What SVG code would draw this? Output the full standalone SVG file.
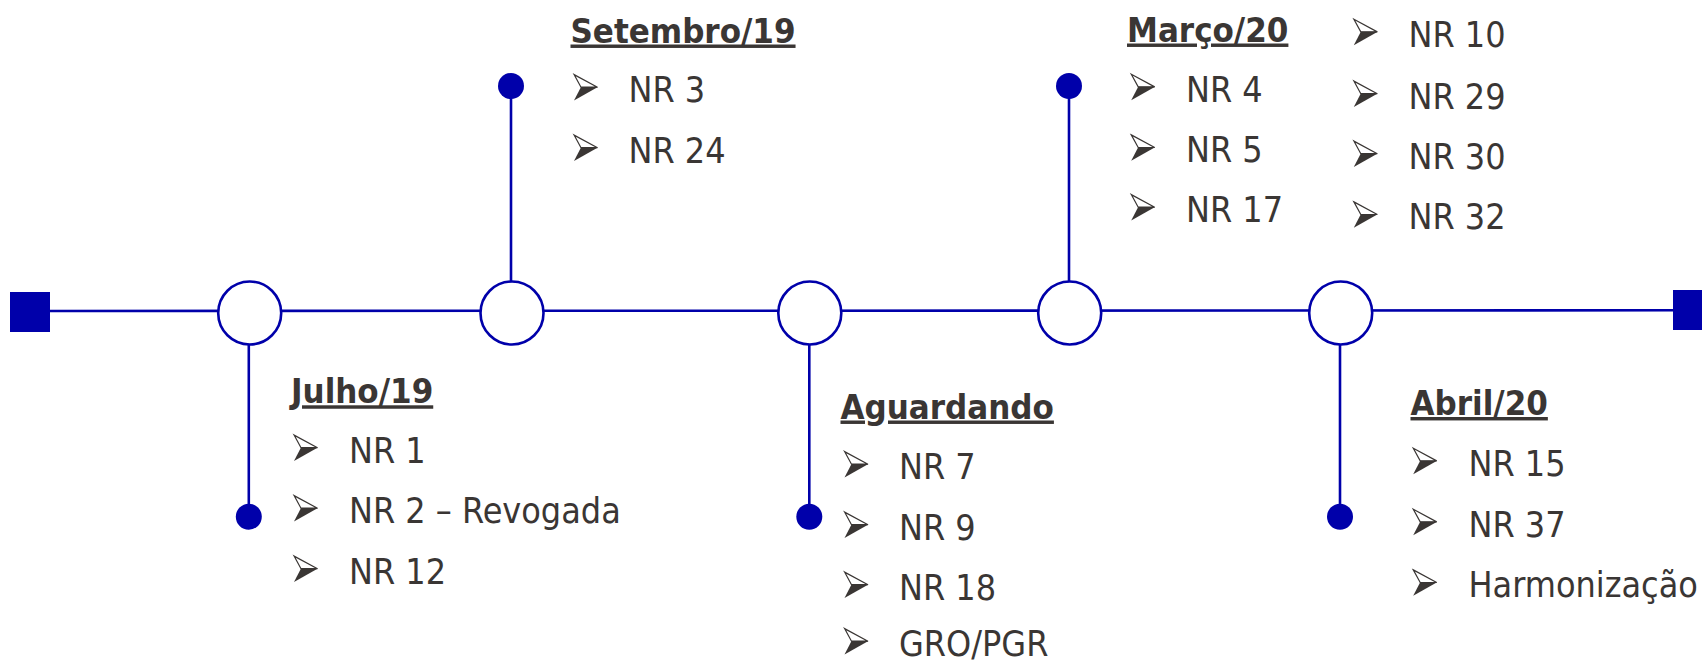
<svg xmlns="http://www.w3.org/2000/svg" xmlns:xlink="http://www.w3.org/1999/xlink" width="1702" height="662" viewBox="0 0 1702 662">
<style>
  .ln { stroke:#0000AA; stroke-width:2.6; fill:none; }
  .ms { fill:#ffffff; stroke:#0000AA; stroke-width:2.6; }
  .dot { fill:#0000AA; }
  .end { fill:#0000AA; }
  text { font-family:"DejaVu Sans Condensed","DejaVu Sans",sans-serif; font-stretch:condensed; fill:#3a3634; font-size:35.6px; }
  .hd { font-weight:bold; text-decoration:underline; font-size:34.5px; }
</style>
<defs>
  <g id="bul">
    <path d="M0.6,0.6 L24,13.2 L7.5,13.2 Z" fill="#ffffff" stroke="#3a3634" stroke-width="1.2"/>
    <path d="M7.5,13 L24.4,13 L0.5,26.5 Z" fill="#3a3634"/>
  </g>
</defs>
<rect width="1702" height="662" fill="#ffffff"/>
<g id="connectors">
  <line class="ln" x1="50" y1="311" x2="1680" y2="310.3"/>
  <line class="ln" x1="248.8" y1="313" x2="248.8" y2="516.7"/>
  <line class="ln" x1="511" y1="313" x2="511" y2="86"/>
  <line class="ln" x1="809.3" y1="313" x2="809.3" y2="516.7"/>
  <line class="ln" x1="1069" y1="313" x2="1069" y2="86"/>
  <line class="ln" x1="1340" y1="313" x2="1340" y2="516.7"/>
</g>
<g id="start">
  <rect class="end" x="10" y="292" width="40" height="40"/>
</g>
<g id="end">
  <rect class="end" x="1673" y="290" width="40" height="40"/>
</g>
<g id="julho19">
  <circle class="ms" cx="249.7" cy="313" r="31.5"/>
  <circle class="dot" cx="248.8" cy="516.7" r="13"/>
  <text class="hd" x="291" y="403.3">Julho/19</text>
  <use xlink:href="#bul" x="293.5" y="434.5"/>
  <text x="349" y="462.5">NR 1</text>
  <use xlink:href="#bul" x="293.5" y="495"/>
  <text x="349" y="523">NR 2 – Revogada</text>
  <use xlink:href="#bul" x="293.5" y="555.5"/>
  <text x="349" y="583.5">NR 12</text>
</g>
<g id="setembro19">
  <circle class="ms" cx="512" cy="313" r="31.5"/>
  <circle class="dot" cx="511" cy="86" r="13"/>
  <text class="hd" x="570.5" y="42.5">Setembro/19</text>
  <use xlink:href="#bul" x="573.5" y="74"/>
  <text x="628.5" y="102">NR 3</text>
  <use xlink:href="#bul" x="573.5" y="134.5"/>
  <text x="628.5" y="162.5">NR 24</text>
</g>
<g id="aguardando">
  <circle class="ms" cx="809.8" cy="313" r="31.5"/>
  <circle class="dot" cx="809.3" cy="516.7" r="13"/>
  <text class="hd" x="840.5" y="418.5">Aguardando</text>
  <use xlink:href="#bul" x="844" y="451"/>
  <text x="899" y="479">NR 7</text>
  <use xlink:href="#bul" x="844" y="511.5"/>
  <text x="899" y="539.5">NR 9</text>
  <use xlink:href="#bul" x="844" y="571.5"/>
  <text x="899" y="599.5">NR 18</text>
  <use xlink:href="#bul" x="844" y="628"/>
  <text x="899" y="656">GRO/PGR</text>
</g>
<g id="marco20">
  <circle class="ms" cx="1069.7" cy="313" r="31.5"/>
  <circle class="dot" cx="1069" cy="86" r="13"/>
  <text class="hd" x="1127" y="41.5">Março/20</text>
  <use xlink:href="#bul" x="1130.7" y="73.7"/>
  <text x="1186" y="101.7">NR 4</text>
  <use xlink:href="#bul" x="1130.7" y="134.3"/>
  <text x="1186" y="162.3">NR 5</text>
  <use xlink:href="#bul" x="1130.7" y="194"/>
  <text x="1186" y="222">NR 17</text>
  <use xlink:href="#bul" x="1353.3" y="18.7"/>
  <text x="1408.5" y="46.7">NR 10</text>
  <use xlink:href="#bul" x="1353.3" y="80.5"/>
  <text x="1408.5" y="108.5">NR 29</text>
  <use xlink:href="#bul" x="1353.3" y="140.5"/>
  <text x="1408.5" y="168.5">NR 30</text>
  <use xlink:href="#bul" x="1353.3" y="201.3"/>
  <text x="1408.5" y="229.3">NR 32</text>
</g>
<g id="abril20">
  <circle class="ms" cx="1340.7" cy="313" r="31.5"/>
  <circle class="dot" cx="1340" cy="516.7" r="13"/>
  <text class="hd" x="1410.5" y="415">Abril/20</text>
  <use xlink:href="#bul" x="1412.7" y="447.7"/>
  <text x="1468.5" y="475.7">NR 15</text>
  <use xlink:href="#bul" x="1412.7" y="508.7"/>
  <text x="1468.5" y="536.7">NR 37</text>
  <use xlink:href="#bul" x="1412.7" y="569.3"/>
  <text x="1468.5" y="597.3">Harmonização</text>
</g>
</svg>
